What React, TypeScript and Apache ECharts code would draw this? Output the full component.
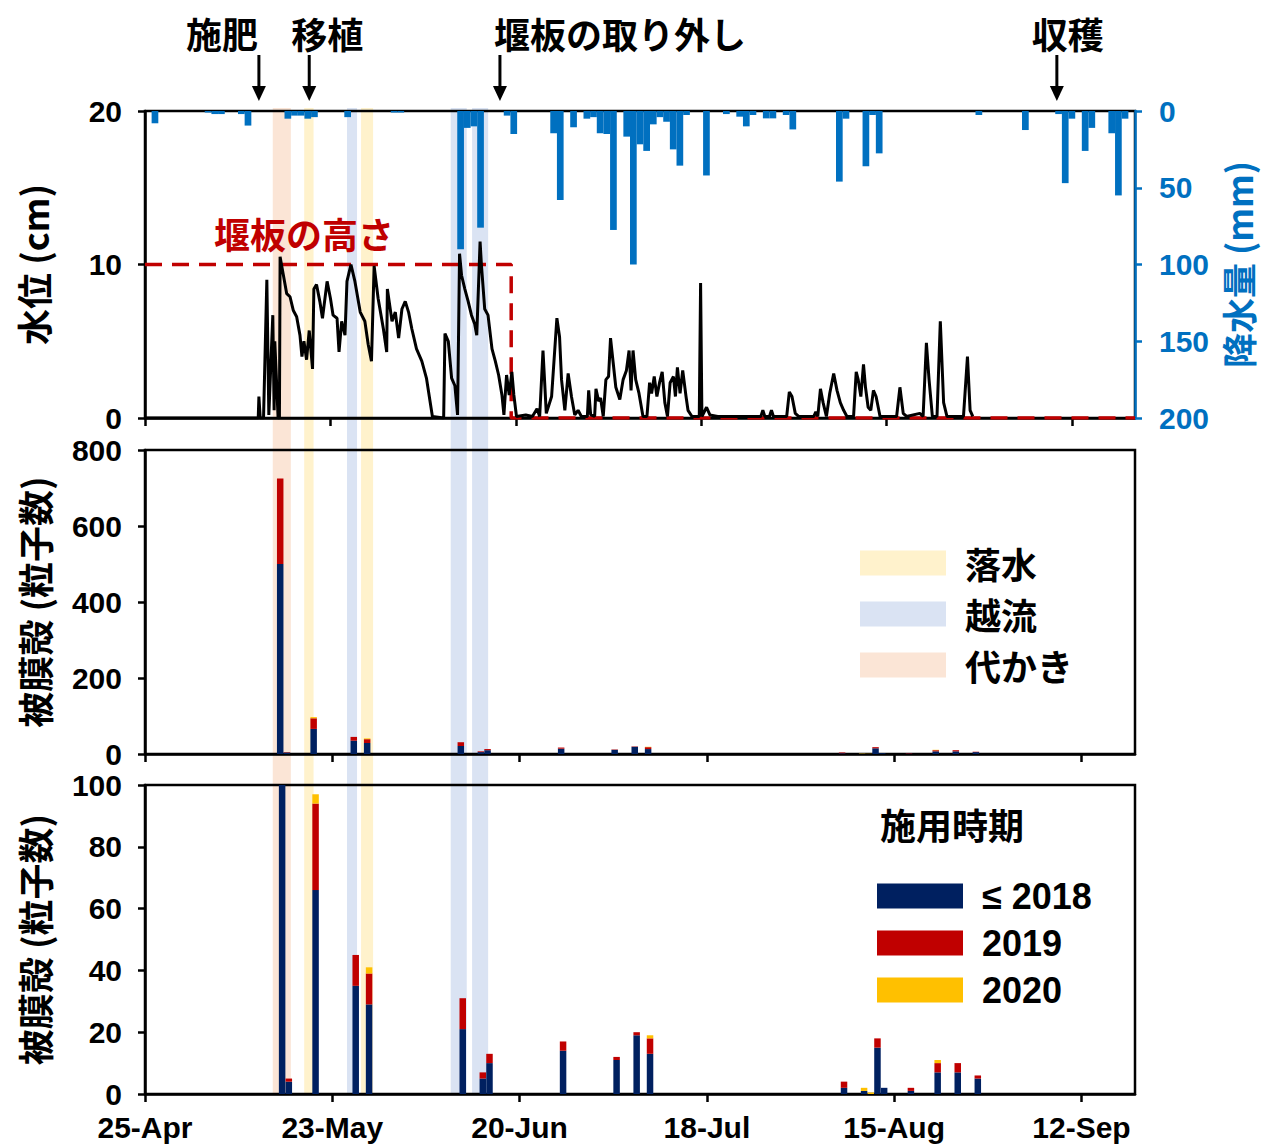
import React, { useEffect, useRef } from "react";
import * as echarts from "echarts";

// ---------- DATA ----------
// x positions are days since 25-Apr
const dateTicks = [0, 28, 56, 84, 112, 140];
const dateLabels = ["25-Apr", "23-May", "20-Jun", "18-Jul", "15-Aug", "12-Sep"];
const dayCount = 148; // 25-Apr .. 19-Sep (bar panels)

// daily rainfall (mm)
const rainDays = [1, 9, 10, 11, 14, 15, 21, 22, 23, 24, 25, 30, 37, 38, 47, 48, 49, 50, 54, 55, 61, 62, 64, 66, 67, 68, 69, 70, 72, 73, 74, 75, 76, 77, 78, 79, 80, 81, 84, 87, 89, 90, 91, 93, 94, 96, 97, 104, 105, 108, 109, 110, 125, 132, 137, 138, 139, 141, 142, 145, 146, 147];
const rainMm = [8, 1, 2, 2, 2, 9.5, 5, 3, 3, 5, 4, 4, 1, 1, 90, 11, 10, 76, 3, 15, 14.5, 58, 10.6, 5, 4, 14.5, 15, 77.5, 16.7, 100, 21.7, 26, 8.7, 4, 7, 25, 35.6, 2.6, 42, 2, 3.7, 10, 2.6, 4.8, 4.8, 2.6, 12, 46, 5, 36, 2.6, 27.6, 2.6, 12.4, 2, 47, 5, 26, 11, 14.5, 55, 5];

// water level (cm)
const levelDays = [0, 17.1, 17.2, 17.4, 17.9, 18.4, 18.7, 19.3, 19.5, 19.6, 20.1, 20.3, 20.4, 20.9, 21.4, 21.9, 22.4, 22.9, 23.4, 23.7, 24.0, 24.4, 24.8, 25.3, 25.5, 25.9, 26.4, 26.8, 27.5, 28.0, 28.4, 29.0, 29.3, 29.7, 30.2, 30.5, 31.1, 31.7, 32.5, 33.2, 33.7, 34.2, 34.6, 35.2, 36.0, 36.5, 36.6, 37.3, 37.8, 38.3, 38.8, 39.3, 39.8, 40.3, 41.0, 41.8, 42.5, 43.4, 45.1, 45.3, 45.8, 46.3, 46.8, 47.2, 47.5, 47.8, 48.3, 48.8, 49.3, 49.8, 50.1, 50.6, 50.8, 51.3, 51.8, 52.4, 52.9, 53.4, 53.9, 54.2, 54.6, 55.0, 55.4, 55.7, 56.1,
  57.5, 58.5, 59.2, 59.6, 60.1, 60.6, 61.4, 62.2, 62.6, 62.9, 63.4, 63.9, 64.4, 64.9, 65.4, 65.9, 66.8, 67.0, 67.3, 67.9, 68.1, 68.5, 68.8, 69.2, 69.6, 70.0, 70.3, 70.7, 71.1, 71.7, 72.2, 72.7, 73.1, 73.4, 73.7, 74.1, 74.6, 75.2, 75.8, 76.2, 76.5, 76.9, 77.3, 77.7, 78.1, 78.5, 78.9, 79.3, 79.8, 80.1, 80.4, 80.8, 81.2, 81.7, 82.0, 82.6, 83.7, 83.9, 84.1, 84.8, 85.3, 86.5, 90.0, 93.0, 93.3, 93.6, 94.3, 94.6, 94.9, 96.9, 97.3, 97.7, 98.2, 98.7, 101.0, 101.3, 101.6, 102.0, 102.4, 102.9, 103.4, 104.0, 104.5, 105.0, 105.5, 106.0, 107.0, 107.4, 107.7, 108.1, 108.5, 108.8, 109.2, 109.6, 110.0, 110.4, 111.0, 113.5, 114.0, 114.5, 115.0, 117.0, 117.5, 118.0, 118.4, 118.9, 119.6, 120.1, 120.6, 121.1, 123.6, 124.2, 124.6, 125.0];
const levelCm = [0, 0, 1.4, 0, 0, 9.0, 0.2, 6.7, 0.5, 5.0, 0, 0, 10.5, 9.3, 8.1, 7.9, 7.0, 6.6, 5.4, 4.0, 5.0, 3.8, 5.7, 3.2, 8.4, 8.7, 7.6, 6.5, 8.9, 7.8, 6.7, 6.5, 4.3, 6.3, 5.4, 8.9, 10.0, 8.9, 6.9, 6.3, 4.8, 3.7, 9.9, 7.8, 5.8, 4.3, 8.4, 6.3, 6.9, 5.2, 7.1, 7.6, 6.9, 5.8, 4.5, 3.7, 2.6, 0.1, 0, 5.5, 5.0, 2.6, 2.1, 0.2, 10.7, 9.3, 8.4, 7.6, 6.7, 6.1, 5.4, 11.5, 10.0, 7.1, 6.7, 4.5, 3.7, 2.8, 1.5, 0.2, 2.8, 1.5, 3.0, 1.5, 0.1,
  0.2, 0.1, 0.6, 0.1, 4.4, 0.3, 1.4, 6.5, 5.3, 2.5, 0.5, 2.9, 1.4, 0.2, 0.5, 0.1, 0.1, 1.8, 0.2, 0.1, 1.9, 1.1, 1.3, 0.1, 2.5, 2.7, 5.2, 3.6, 2.0, 1.2, 2.5, 3.1, 4.4, 1.8, 4.4, 2.5, 1.6, 0.1, 0.1, 2.3, 1.6, 2.7, 1.4, 2.3, 3.0, 1.0, 0.1, 2.3, 2.7, 1.4, 3.3, 1.6, 3.1, 1.4, 0.5, 0.1, 0.1, 8.8, 0.1, 0.7, 0.2, 0.1, 0.1, 0.1, 0.5, 0.1, 0.1, 0.5, 0.1, 0.1, 1.7, 1.4, 0.3, 0.1, 0.1, 0.4, 0.1, 1.9, 1.0, 0.1, 1.6, 2.9, 1.8, 1.0, 0.5, 0.1, 0.1, 3.0, 2.5, 1.4, 3.5, 2.0, 0.7, 0.5, 1.8, 1.4, 0.1, 0.1, 2.0, 0.3, 0.1, 0.3, 0.1, 4.9, 2.5, 0.1, 0.1, 6.3, 1.0, 0.1, 0.1, 4.0, 0.5, 0.1];

// weir board height (cm)
const weirDays = [0, 55.3, 55.3, 149.5];
const weirCm = [10, 10, 0, 0];

// coated-shell counts per sampling day, by application year
const sampleDays = [20, 21, 25, 31, 33, 47, 50, 51, 62, 70, 73, 75, 104, 107, 108, 109, 110, 114, 118, 121, 124];
const count2018 = [500, 4, 66, 35, 29, 21, 5, 10, 14, 11, 19, 13, 2, 1, 0, 15, 2, 1, 7, 7, 5];
const count2019 = [225, 1, 28, 10, 10, 10, 2, 3, 3, 1, 1, 5, 2, 0, 0, 3, 0, 1, 3, 3, 1];
const count2020 = [0, 0, 3, 0, 2, 0, 0, 0, 0, 0, 0, 1, 0, 1, 0.5, 0, 0, 0, 1, 0, 0];
const seriesNames = ["≤ 2018", "2019", "2020"];

// water-management periods (days)
const puddlingBands = [[19.1, 21.8]]; // 代かき
const drainBands = [[23.8, 25.2], [32.3, 34.1]]; // 落水
const overflowBands = [[30.2, 31.7], [45.7, 48.1], [48.9, 51.3]]; // 越流
const bandNames = ["落水", "越流", "代かき"];

// events
const eventNames = ["施肥", "移植", "堰板の取り外し", "収穫"];
const eventDays = [17.2, 24.8, 53.6, 137.7];

// ---------- STYLE ----------
const FONT = "Arial, 'Liberation Sans', 'Noto Sans CJK JP', sans-serif";
const CJK = "'Noto Sans CJK JP', Arial, 'Liberation Sans', sans-serif";
const NAVY = "#002060";
const RED = "#C00000";
const GOLD = "#FFC000";
const BLUE = "#0070C0";
const C_DRAIN = "#FFF2CC";
const C_OVER = "#DAE3F3";
const C_PUDDLE = "#FBE5D6";
const eventLabelOffsets = [-37, 18, 120, 11];

const black = "#000";
const axisLine = { show: true, onZero: false, lineStyle: { color: black, width: 2.5 } };
const yTick = { show: true, inside: false, length: 7, lineStyle: { color: black, width: 2.5 } };
const yLabel = { color: black, fontSize: 30, fontWeight: "bold", fontFamily: FONT, margin: 23 };
const yName = { color: black, fontSize: 36, fontWeight: "bold", fontFamily: CJK };
const xTick = { show: true, inside: false, length: 8, customValues: dateTicks, lineStyle: { color: black, width: 2.5 } };

function pairs(xs: number[], ys: number[], off = 0) {
  return xs.map((x, i) => [x + off, ys[i]]);
}

const dayCats = Array.from({ length: dayCount }, (_, i) => String(i));
function byDay(vals: number[]) {
  return dayCats.map((_, d) => {
    const i = sampleDays.indexOf(d);
    return i >= 0 ? vals[i] : 0;
  });
}

function buildOption() {
  const grids = [
    { left: 145, right: 127, top: 111, height: 307 },
    { left: 145, right: 127, top: 450, height: 304 },
    { left: 145, right: 127, top: 785, height: 309 },
  ].map((g) => ({ ...g, show: true, borderColor: black, borderWidth: 2.5, backgroundColor: "transparent", outerBoundsMode: "none" }));

  const hiddenCat = (gi: number) => ({ gridIndex: gi, position: "bottom", type: "category", data: dayCats, boundaryGap: true, show: false });

  const xAxis = [
    { gridIndex: 0, position: "bottom", type: "value", min: 0, max: 149.5, axisLine, axisTick: xTick, axisLabel: { show: false }, splitLine: { show: false } },
    { gridIndex: 0, position: "bottom", type: "value", min: 0, max: 149, show: false, splitLine: { show: false } },
    hiddenCat(1),
    { gridIndex: 1, position: "bottom", type: "value", min: 0, max: dayCount, axisLine, axisTick: xTick, axisLabel: { show: false }, splitLine: { show: false } },
    hiddenCat(2),
    {
      gridIndex: 2, position: "bottom", type: "value", min: 0, max: dayCount, axisLine, axisTick: xTick, splitLine: { show: false },
      axisLabel: {
        customValues: dateTicks, color: black, fontSize: 30, fontWeight: "bold", fontFamily: FONT, margin: 18,
        formatter: (v: number) => { const i = dateTicks.indexOf(v); return i >= 0 ? dateLabels[i] : ""; },
      },
    },
  ];

  const yAxis = [
    { gridIndex: 0, position: "left", type: "value", min: 0, max: 20, interval: 10, axisLine, axisTick: yTick, axisLabel: yLabel, splitLine: { show: false },
      name: "水位 (cm)", nameLocation: "middle", nameRotate: 90, nameGap: 94, nameTextStyle: yName },
    { gridIndex: 0, type: "value", position: "right", min: 0, max: 200, interval: 50, inverse: true,
      axisLine: { show: true, onZero: false, lineStyle: { color: BLUE, width: 2.5 } },
      axisTick: { show: true, inside: false, length: 7, lineStyle: { color: BLUE, width: 2.5 } },
      axisLabel: { ...yLabel, color: BLUE, margin: 24 }, splitLine: { show: false },
      name: "降水量 (mm)", nameLocation: "middle", nameRotate: 90, nameGap: 82, nameTextStyle: { ...yName, fontSize: 35, color: BLUE } },
    { gridIndex: 1, position: "left", type: "value", min: 0, max: 800, interval: 200, axisLine, axisTick: yTick, axisLabel: yLabel, splitLine: { show: false },
      name: "被膜殻 (粒子数)", nameLocation: "middle", nameRotate: 90, nameGap: 93, nameTextStyle: yName },
    { gridIndex: 2, position: "left", type: "value", min: 0, max: 100, interval: 20, axisLine, axisTick: yTick, axisLabel: yLabel, splitLine: { show: false },
      name: "被膜殻 (粒子数)", nameLocation: "middle", nameRotate: 90, nameGap: 93, nameTextStyle: yName },
  ];

  const counts = [count2018, count2019, count2020];
  const colors = [NAVY, RED, GOLD];
  const stacked: any[] = [];
  [[2, 2, "mid"], [4, 3, "bot"]].forEach(([xi, yi, st]) => {
    counts.forEach((c, k) => {
      stacked.push({
        type: "bar", name: seriesNames[k], xAxisIndex: xi, yAxisIndex: yi, stack: st,
        data: byDay(c), barWidth: 6.5, itemStyle: { color: colors[k] }, silent: true,
      });
    });
  });

  const bandSeries = bandNames.map((n, i) => ({
    type: "bar", name: n, xAxisIndex: 2, yAxisIndex: 2, data: [],
    itemStyle: { color: [C_DRAIN, C_OVER, C_PUDDLE][i] },
  }));

  const legendText = { color: black, fontSize: 36, fontWeight: "bold", fontFamily: CJK, padding: [0, 0, 0, 14] };

  return {
    animation: false,
    backgroundColor: "#fff",
    grid: grids,
    xAxis,
    yAxis,
    legend: [
      { data: bandNames, orient: "vertical", left: 855, top: 540, itemWidth: 86, itemHeight: 25, itemGap: 15, icon: "rect",
        selectedMode: false, textStyle: legendText },
      { data: seriesNames, orient: "vertical", left: 872, top: 873, itemWidth: 86, itemHeight: 25, itemGap: 11, icon: "rect",
        selectedMode: false, textStyle: { ...legendText, fontFamily: FONT } },
    ],
    series: [
      { type: "line", name: "堰板の高さ", xAxisIndex: 0, yAxisIndex: 0, data: pairs(weirDays, weirCm), symbol: "none",
        lineStyle: { color: RED, width: 3.5, type: [17, 10] }, silent: true },
      { type: "line", name: "水位", xAxisIndex: 0, yAxisIndex: 0, data: pairs(levelDays, levelCm), symbol: "none",
        lineStyle: { color: black, width: 3 }, silent: true },
      { type: "bar", name: "降水量", xAxisIndex: 1, yAxisIndex: 1, data: pairs(rainDays, rainMm, 0.5), barWidth: 6.7,
        itemStyle: { color: BLUE }, silent: true },
      ...stacked,
      ...bandSeries,
    ],
  };
}

export default function App() {
  const ref = useRef<HTMLDivElement>(null);
  useEffect(() => {
    const chart = echarts.init(ref.current!, null, { renderer: "svg" });
    chart.setOption(buildOption() as any);

    const px = (axis: number, v: number) => chart.convertToPixel({ xAxisIndex: axis } as any, v) as unknown as number;
    const py = (axis: number, v: number) => chart.convertToPixel({ yAxisIndex: axis } as any, v) as unknown as number;

    const yTop = py(0, 20) - 3;
    const yBot = py(3, 0);
    const elements: any[] = [];
    const addBands = (bands: number[][], color: string) => {
      bands.forEach(([a, b]) => {
        const x0 = px(5, a);
        const x1 = px(5, b);
        elements.push({ type: "rect", z: -10, silent: true, shape: { x: x0, y: yTop, width: x1 - x0, height: yBot - yTop }, style: { fill: color } });
      });
    };
    addBands(puddlingBands, C_PUDDLE);
    addBands(drainBands, C_DRAIN);
    addBands(overflowBands, C_OVER);

    const font36 = `bold 36px ${CJK}`;
    eventNames.forEach((name, i) => {
      const x = px(0, eventDays[i]);
      elements.push({ type: "line", silent: true, shape: { x1: x, y1: 55, x2: x, y2: 92 }, style: { stroke: black, lineWidth: 3 } });
      elements.push({ type: "polygon", silent: true, shape: { points: [[x - 7, 86], [x + 7, 86], [x, 101]] }, style: { fill: black } });
      elements.push({ type: "text", silent: true, x: x + eventLabelOffsets[i], y: 33,
        style: { text: name, font: font36, fill: black, align: "center", textAlign: "center", verticalAlign: "middle", textVerticalAlign: "middle" } });
    });

    elements.push({ type: "text", silent: true, x: 304, y: 233,
      style: { text: "堰板の高さ", font: font36, fill: RED, align: "center", textAlign: "center", verticalAlign: "middle", textVerticalAlign: "middle" } });
    elements.push({ type: "text", silent: true, x: 880, y: 824,
      style: { text: "施用時期", font: font36, fill: black, align: "left", textAlign: "left", verticalAlign: "middle", textVerticalAlign: "middle" } });

    chart.setOption({ graphic: { elements } } as any);
    return () => chart.dispose();
  }, []);
  return <div ref={ref} style={{ position: "absolute", left: 0, top: 0, width: 1262, height: 1145 }} />;
}
